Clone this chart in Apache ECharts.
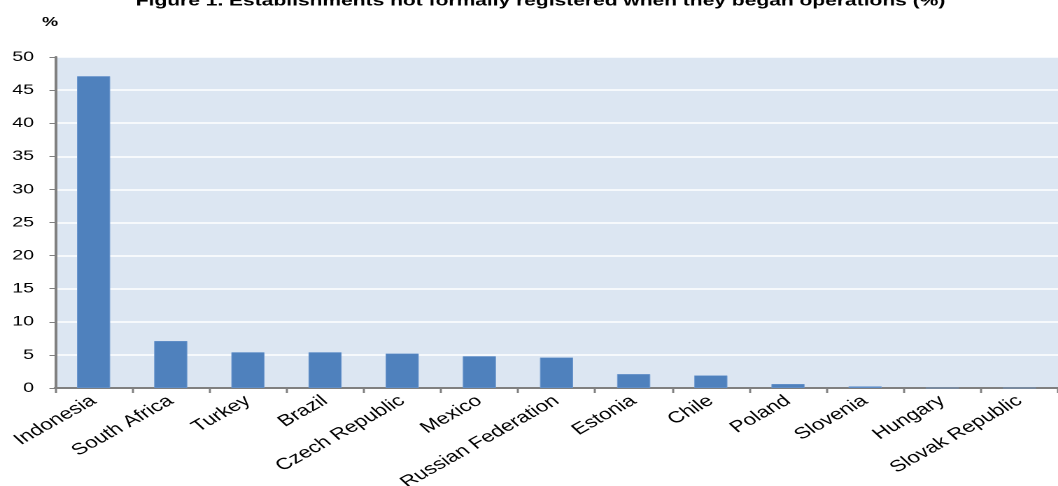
<!DOCTYPE html>
<html>
<head>
<meta charset="utf-8">
<script src="https://cdn.jsdelivr.net/npm/echarts@6/dist/echarts.min.js"></script>
<style>
  html, body { margin: 0; padding: 0; background: #fff; overflow: hidden; }
  /* the reference is stretched sideways, so draw narrow and widen it */
  #chart { width: 756px; height: 486px; transform: scaleX(1.3995); transform-origin: 0 0; }
</style>
</head>
<body>
<div id="chart"></div>
<script>
const countries = ["Indonesia", "South Africa", "Turkey", "Brazil", "Czech Republic", "Mexico",
  "Russian Federation", "Estonia", "Chile", "Poland", "Slovenia", "Hungary", "Slovak Republic"];
const shares = [47.1, 7.1, 5.4, 5.4, 5.2, 4.8, 4.6, 2.1, 1.9, 0.6, 0.25, 0, 0];
const yTicks = [0, 5, 10, 15, 20, 25, 30, 35, 40, 45, 50];

const chart = echarts.init(document.getElementById("chart"), null, { devicePixelRatio: 2 });
const font = "Liberation Sans, Arial, sans-serif";
const option = {
  animation: false,
  title: {
    text: "Figure 1. Establishments not formally registered when they began operations (%)",
    left: 97,
    top: -6,
    padding: 0,
    textStyle: { fontFamily: font, fontSize: 15, fontWeight: "bold", color: "#000" },
  },
  graphic: [
    {
      type: "text",
      left: 30,
      top: 16,
      style: { text: "%", font: "bold 13px " + font, fill: "#000" },
    },
  ],
  grid: {
    left: 39.3, right: 0, top: 57, bottom: 98,
    containLabel: false, outerBoundsMode: "none",
    backgroundColor: "#dce6f2", show: true, borderWidth: 0,
  },
  xAxis: {
    type: "category",
    data: countries,
    axisLine: { lineStyle: { color: "#808080", width: 2 } },
    axisTick: { show: true, length: 5, lineStyle: { color: "#808080", width: 1.5 } },
    axisLabel: { rotate: 38, fontFamily: font, fontSize: 16, color: "#000", margin: 11, interval: 0 },
  },
  yAxis: {
    type: "value",
    min: yTicks[0],
    max: yTicks[yTicks.length - 1],
    interval: 5,
    axisLine: { show: true, lineStyle: { color: "#808080", width: 2 } },
    axisTick: { show: true, length: 4, lineStyle: { color: "#808080" } },
    axisLabel: { fontFamily: font, fontSize: 14, color: "#000", margin: 15 },
    splitLine: { lineStyle: { color: "#ffffff", width: 1.5 } },
  },
  series: [
    {
      type: "bar",
      data: shares,
      barWidth: "43%",
      itemStyle: { color: "#4f81bd", borderColor: "#6f9ad0", borderWidth: 0.5 },
    },
  ],
};
chart.setOption(option);
window.addEventListener("resize", chart.resize);
</script>
</body>
</html>
